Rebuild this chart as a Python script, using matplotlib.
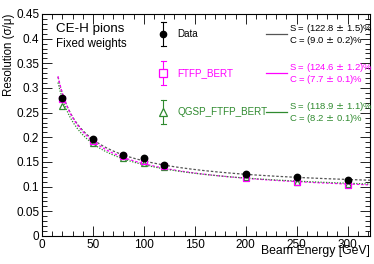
import numpy as np
import matplotlib
matplotlib.use("Agg")
import matplotlib.pyplot as plt
from matplotlib.ticker import MultipleLocator, FuncFormatter

plt.rcParams['font.family'] = ['Liberation Sans', 'DejaVu Sans']

energy = [20, 50, 80, 100, 120, 200, 250, 300]
res_data = [0.279, 0.196, 0.164, 0.158, 0.143, 0.126, 0.119, 0.113]
err_data = [0.004, 0.002, 0.002, 0.002, 0.002, 0.002, 0.002, 0.002]
res_ftfp = [0.278, 0.193, 0.162, 0.153, 0.141, 0.118, 0.109, 0.104]
res_qgsp = [0.263, 0.189, 0.158, 0.148, 0.139, 0.119, 0.110, 0.105]

fit_labels = ["Data", "FTFP_BERT", "QGSP_FTFP_BERT"]
fit_S = [122.8, 124.6, 118.9]
fit_S_err = [1.5, 1.2, 1.1]
fit_C = [9.0, 7.7, 8.2]
fit_C_err = [0.2, 0.1, 0.1]

W, H = 374, 264
fig = plt.figure(figsize=(W / 100, H / 100), dpi=100)
L, R, T, B = 42, 370, 14, 236
ax = fig.add_axes([L / W, 1 - B / H, (R - L) / W, (B - T) / H])
ax.set_xlim(0, 322)
ax.set_ylim(0, 0.45)

black = "#000000"
grey = "#555555"
mag = "#ff00ff"
green = "#2f8a2f"

Ef = np.linspace(15.7, 322, 300)
def curve(S, C):
    return np.sqrt((S / 100) ** 2 / Ef + (C / 100) ** 2)

ax.plot(Ef, curve(fit_S[0], fit_C[0]), ls=(0, (2, 1.5)), color=grey, lw=0.9)
ax.plot(Ef, curve(fit_S[1], fit_C[1]), ls=(0, (2, 1.5)), color=mag, lw=0.9)
ax.plot(Ef, curve(fit_S[2], fit_C[2]), ls=(0, (1, 1.2)), color=green, lw=0.9)

ax.plot(energy, res_qgsp, ls='none', marker='^', ms=5, mfc='none', mec=green, mew=0.9)
ax.plot(energy, res_ftfp, ls='none', marker='s', ms=4.3, mfc='none', mec=mag, mew=0.9)
ax.errorbar(energy, res_data, yerr=err_data, ls='none', marker='o', ms=4.6, color=black,
            elinewidth=0.8, capsize=0)

# ticks
ax.xaxis.set_major_locator(MultipleLocator(50))
ax.xaxis.set_minor_locator(MultipleLocator(10))
ax.yaxis.set_major_locator(MultipleLocator(0.05))
ax.yaxis.set_minor_locator(MultipleLocator(0.01))
ax.tick_params(which='both', direction='in', top=True, right=True, labelsize=8.5, pad=2)
ax.tick_params(which='major', length=7, width=0.6)
ax.tick_params(which='minor', length=3.5, width=0.6)
ax.yaxis.set_major_formatter(FuncFormatter(lambda v, p: ("%g" % round(v, 3))))
for s in ax.spines.values():
    s.set_linewidth(0.8)

ax.set_xlabel("Beam Energy [GeV]", fontsize=8.8, loc='right', labelpad=-4)
ax.set_ylabel("Resolution (σ/μ)", fontsize=8.3, loc='top', labelpad=1)

def px(x, y):
    return (x / W, 1 - y / H)

fig.text(*px(56, 32), "CE-H pions", fontsize=9.6, va='baseline')
fig.text(*px(56, 47), "Fixed weights", fontsize=8.3, va='baseline')

# legend
colors = [black, mag, green]
lcolors = [grey, mag, green]
markers = ['o', 's', '^']
msizes = [4.6, 5.2, 5.5]
ys = [34, 73, 112]
for i in range(3):
    x0, y0 = px(163, ys[i])
    fig.add_artist(plt.Line2D([x0, x0], [y0 - 12 / H, y0 + 12 / H], color=colors[i], lw=0.8))
    for dy in (-12, 12):
        fig.add_artist(plt.Line2D([x0 - 2.5 / W, x0 + 2.5 / W], [y0 + dy / H, y0 + dy / H],
                                  color=colors[i], lw=0.8))
    fig.add_artist(plt.Line2D([x0], [y0], marker=markers[i], ms=msizes[i],
                              mfc=black if i == 0 else 'white',
                              mec=colors[i], mew=0.9, ls='none'))
    fig.text(*px(177, ys[i] + 3), fit_labels[i], fontsize=7.1, color=colors[i], va='baseline')
    xa, ya = px(266, ys[i])
    xb, _ = px(287, ys[i])
    fig.add_artist(plt.Line2D([xa, xb], [ya, ya], color=lcolors[i], lw=0.9))
    fig.text(*px(289, ys[i] - 3), "S = (%.1f $\\pm$ %.1f)%%" % (fit_S[i], fit_S_err[i]),
             fontsize=6.8, color=colors[i], va='baseline')
    fig.text(*px(289, ys[i] + 9), "C = (%.1f $\\pm$ %.1f)%%" % (fit_C[i], fit_C_err[i]),
             fontsize=6.8, color=colors[i], va='baseline')

fig.savefig("out.png", dpi=100)
